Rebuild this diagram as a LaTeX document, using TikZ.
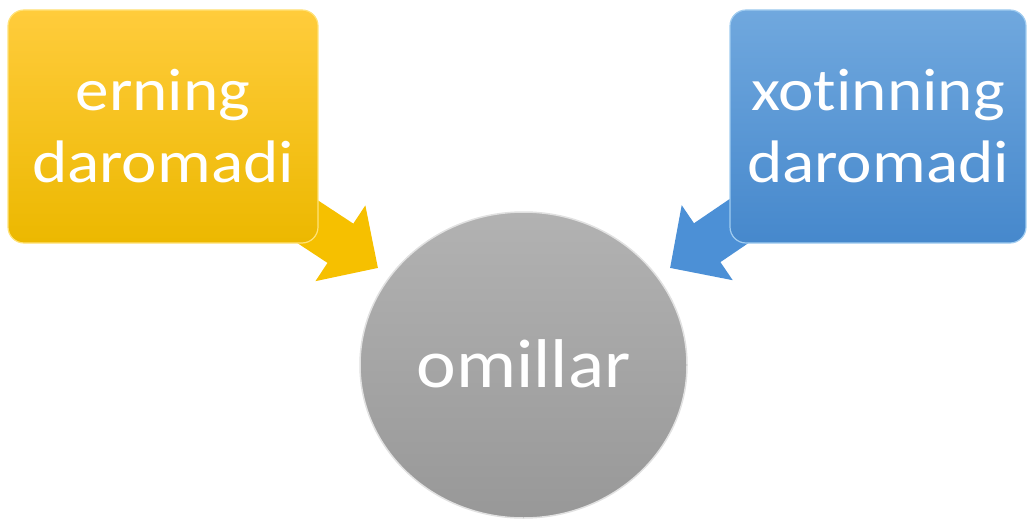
\documentclass[tikz,border=0pt]{standalone}
\usepackage{fontspec}
\setmainfont{Carlito}
\newfontfamily\boxfont[FakeStretch=1.12,Ligatures={NoCommon,NoRequired,NoContextual}]{Carlito}
\newfontfamily\circfont[FakeStretch=1.09,Ligatures={NoCommon,NoRequired,NoContextual}]{Carlito}
\usetikzlibrary{arrows.meta,shapes.geometric,backgrounds}
\definecolor{goldT}{RGB}{255,204,60}
\definecolor{goldB}{RGB}{236,184,0}
\definecolor{goldA}{RGB}{246,192,0}
\definecolor{goldL}{RGB}{255,226,120}
\definecolor{blueT}{RGB}{112,168,222}
\definecolor{blueB}{RGB}{70,136,204}
\definecolor{blueA}{RGB}{76,144,214}
\definecolor{blueL}{RGB}{160,204,240}
\definecolor{greyT}{RGB}{178,178,178}
\definecolor{greyB}{RGB}{152,152,152}
\definecolor{greyL}{RGB}{225,225,225}
\tikzset{
  boxstyle/.style={rectangle, rounded corners=16pt, minimum width=#1, minimum height=233pt,
    inner sep=0pt, align=center, text=white, font=\boxfont\fontsize{60}{72}\selectfont},
  ybox/.style={boxstyle=310pt, top color=goldT, bottom color=goldB, draw=goldL, line width=1.2pt},
  bbox/.style={boxstyle=296pt, top color=blueT, bottom color=blueB, draw=blueL, line width=1.2pt},
  circ/.style={ellipse, minimum width=327pt, minimum height=306pt, inner sep=0pt,
    top color=greyT, bottom color=greyB, draw=greyL, line width=1.5pt,
    text=white, font=\circfont\fontsize{69}{80}\selectfont},
  blockarrow/.style={line width=47pt, draw=#1, -{Triangle[length=45pt,width=88pt]}}
}
\begin{document}
\begin{tikzpicture}[x=1pt,y=-1pt]
\useasboundingbox (0,0) rectangle (1027,519);
\coordinate (ytip) at (378,268);
\coordinate (btip) at (670,268);
\node[ybox] (erning) at (163,126.5) {erning\\daromadi};
\node[bbox] (xotin) at (878,126.5) {xotinning\\daromadi};
\node[circ] (omillar) at (523.5,365) {\raisebox{3pt}{omillar}};
\begin{scope}[on background layer]
\draw[blockarrow=goldA] (erning.center) -- (ytip);
\draw[blockarrow=blueA] (xotin.center) -- (btip);
\end{scope}
\end{tikzpicture}
\end{document}
